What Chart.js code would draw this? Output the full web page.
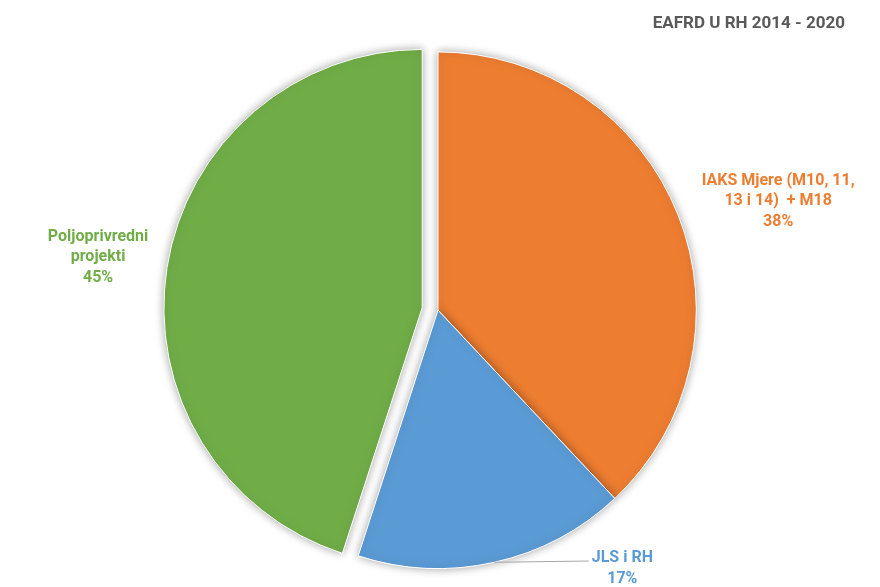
<!DOCTYPE html>
<html>
<head>
<meta charset="utf-8">
<script src="https://cdn.jsdelivr.net/npm/chart.js@4"></script>
<style>
  html, body { margin: 0; padding: 0; background: #fff; }
  #wrap { width: 880px; height: 587px; }
</style>
</head>
<body>
<div id="wrap"><canvas id="chart" width="880" height="587"></canvas></div>
<script>
// data
var categories = [
  ["IAKS Mjere (M10, 11,", "13 i 14)  + M18"],
  ["JLS i RH"],
  ["Poljoprivredni", "projekti"]
];
var shares = [38, 17, 45];
var sliceColors = ["#ED7D31", "#5B9BD5", "#70AD47"];
var explode = [0, 0, 16];

// where each label sits relative to the point on the slice edge
var labelShift = [[100, -14], [128, 6], [-69, -10]];
var leaderLine = [false, true, false];

// pull a slice straight out along its middle angle (v4's own offset also grows the radius)
var explodePlugin = {
  id: "explodeSlice",
  afterUpdate: function(chart) {
    chart.getDatasetMeta(0).data.forEach(function(arc, i) {
      if (!explode[i] || arc._exploded) return;
      var orig = arc.draw;
      arc.draw = function(ctx, area) {
        var mid = (this.startAngle + this.endAngle) / 2;
        ctx.save();
        ctx.translate(Math.cos(mid) * explode[i], Math.sin(mid) * explode[i]);
        orig.call(this, ctx, area);
        ctx.restore();
      };
      arc._exploded = true;
    });
  }
};

var shadowPlugin = {
  id: "sliceShadow",
  beforeDatasetsDraw: function(chart) {
    var ctx = chart.ctx;
    ctx.save();
    ctx.shadowColor = "rgba(0,0,0,0.35)";
    ctx.shadowBlur = 10;
    ctx.shadowOffsetX = 0;
    ctx.shadowOffsetY = 0;
  },
  afterDatasetsDraw: function(chart) {
    chart.ctx.restore();
  }
};

var labelPlugin = {
  id: "sliceLabels",
  afterDraw: function(chart) {
    var ctx = chart.ctx;
    var meta = chart.getDatasetMeta(0);
    var total = shares.reduce(function(a, b) { return a + b; }, 0);
    ctx.save();
    ctx.font = "bold 16px Roboto";
    ctx.textAlign = "center";
    ctx.textBaseline = "middle";
    meta.data.forEach(function(arc, i) {
      var p = arc.getProps(["x", "y", "startAngle", "endAngle", "outerRadius"], true);
      var mid = (p.startAngle + p.endAngle) / 2;
      var r = p.outerRadius + explode[i];
      var ex = p.x + Math.cos(mid) * r;
      var ey = p.y + Math.sin(mid) * r;
      var lines = categories[i].concat([Math.round(shares[i] / total * 100) + "%"]);
      var lh = 20.5;
      var cx = ex + labelShift[i][0];
      var cy = ey + labelShift[i][1];
      var top = cy - (lines.length - 1) * lh / 2;
      if (leaderLine[i]) {
        var w = 0;
        lines.forEach(function(t) { w = Math.max(w, ctx.measureText(t).width); });
        ctx.strokeStyle = "#A6A6A6";
        ctx.lineWidth = 1;
        ctx.beginPath();
        ctx.moveTo(ex, ey);
        ctx.lineTo(cx - w / 2 - 3, top + 3);
        ctx.stroke();
      }
      ctx.fillStyle = sliceColors[i];
      lines.forEach(function(t, k) {
        ctx.fillText(t, cx, top + k * lh);
      });
    });
    ctx.restore();
  }
};

new Chart(document.getElementById("chart").getContext("2d"), {
  type: "pie",
  data: {
    labels: categories.map(function(c) { return c.join(" "); }),
    datasets: [{
      data: shares,
      backgroundColor: sliceColors,
      borderColor: "#ffffff",
      borderWidth: 1,
      hoverOffset: 0
    }]
  },
  options: {
    responsive: false,
    animation: false,
    devicePixelRatio: 1,
    layout: { padding: { left: 31, right: 35, top: 0, bottom: 18 } },
    plugins: {
      legend: { display: false },
      tooltip: { enabled: false },
      title: {
        display: true,
        text: "EAFRD U RH 2014 - 2020",
        align: "end",
        color: "#595959",
        font: { family: "Roboto", size: 17, weight: "bold", lineHeight: 1.2 },
        padding: { top: 14, bottom: 17 }
      }
    }
  },
  plugins: [explodePlugin, shadowPlugin, labelPlugin]
});
</script>
</body>
</html>
